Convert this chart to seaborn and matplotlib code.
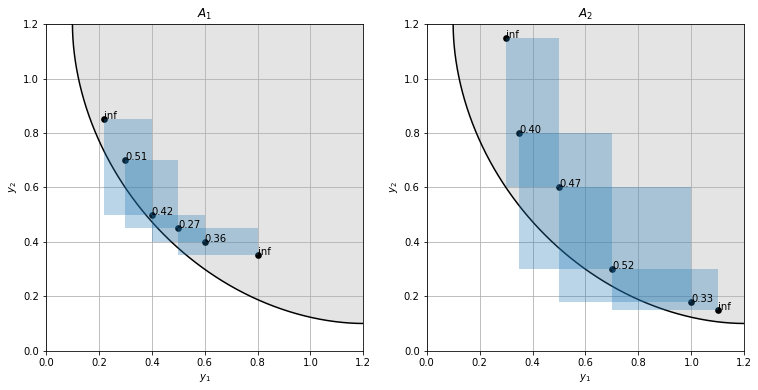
import numpy as np
import pandas as pd
import matplotlib
matplotlib.use("Agg")
import matplotlib.pyplot as plt
from matplotlib.patches import Rectangle
import seaborn as sns

# ---- data ----
titles = ["$A_1$", "$A_2$"]
a1_y1 = [0.22, 0.30, 0.40, 0.50, 0.60, 0.80]
a1_y2 = [0.85, 0.70, 0.50, 0.45, 0.40, 0.35]
a1_labels = ["inf", "0.51", "0.42", "0.27", "0.36", "inf"]

a2_y1 = [0.30, 0.35, 0.50, 0.70, 1.00, 1.10]
a2_y2 = [1.15, 0.80, 0.60, 0.30, 0.18, 0.15]
a2_labels = ["inf", "0.40", "0.47", "0.52", "0.33", "inf"]

ticks = [0.0, 0.2, 0.4, 0.6, 0.8, 1.0, 1.2]

# reference front: arc around the corner (1.2, 1.2)
front_center = 1.2
front_radius = 1.1
front_power = 1.9

sets = [(a1_y1, a1_y2, a1_labels), (a2_y1, a2_y2, a2_labels)]

fig = plt.figure(figsize=(758 / 72, 390 / 72), dpi=72)
axes = [fig.add_axes([0.0607, 0.1008, 0.4186, 0.8369]),
        fig.add_axes([0.5629, 0.1008, 0.4190, 0.8369])]

t = np.linspace(0, np.pi / 2, 400)
cx = front_center - front_radius * np.cos(t) ** (2 / front_power)
cy = front_center - front_radius * np.sin(t) ** (2 / front_power)
front = pd.DataFrame({"y1": cx, "y2": cy})

for ax, title, (ys1, ys2, labs) in zip(axes, titles, sets):
    ax.set_axisbelow(True)
    ax.fill_between(front["y1"], front["y2"], 1.2, color="#e4e4e4", lw=0, zorder=0.2)
    sns.lineplot(data=front, x="y1", y="y2", sort=False, color="black", lw=1.5,
                 ax=ax, zorder=2)
    df = pd.DataFrame({"y1": ys1, "y2": ys2})
    sns.scatterplot(data=df, x="y1", y="y2", color="black", s=45,
                    edgecolor="black", linewidth=0, ax=ax, zorder=3)
    # improvement boxes between neighbours (drawn over the points)
    for i in range(1, len(ys1) - 1):
        x0, x1 = ys1[i - 1], ys1[i + 1]
        yb, yt = ys2[i + 1], ys2[i - 1]
        ax.add_patch(Rectangle((x0, yb), x1 - x0, yt - yb, color="#1f77b4",
                               alpha=0.3, lw=0, zorder=3.5))
    for x, y, s in zip(ys1, ys2, labs):
        ax.text(x, y, s, fontsize=10, zorder=4)
    ax.set_xlim(0, 1.2)
    ax.set_ylim(0, 1.2)
    ax.set_xticks(ticks)
    ax.set_yticks(ticks)
    ax.grid(True, color="#b0b0b0", lw=0.8, zorder=0.5)
    ax.set_xlabel("$y_1$", fontsize=10)
    ax.set_ylabel("$y_2$", fontsize=10)
    ax.set_title(title, fontsize=12)
    ax.tick_params(labelsize=10)
    for sp in ax.spines.values():
        sp.set_color("black")
        sp.set_zorder(5)

fig.savefig("out.png", dpi=72, facecolor="white")
